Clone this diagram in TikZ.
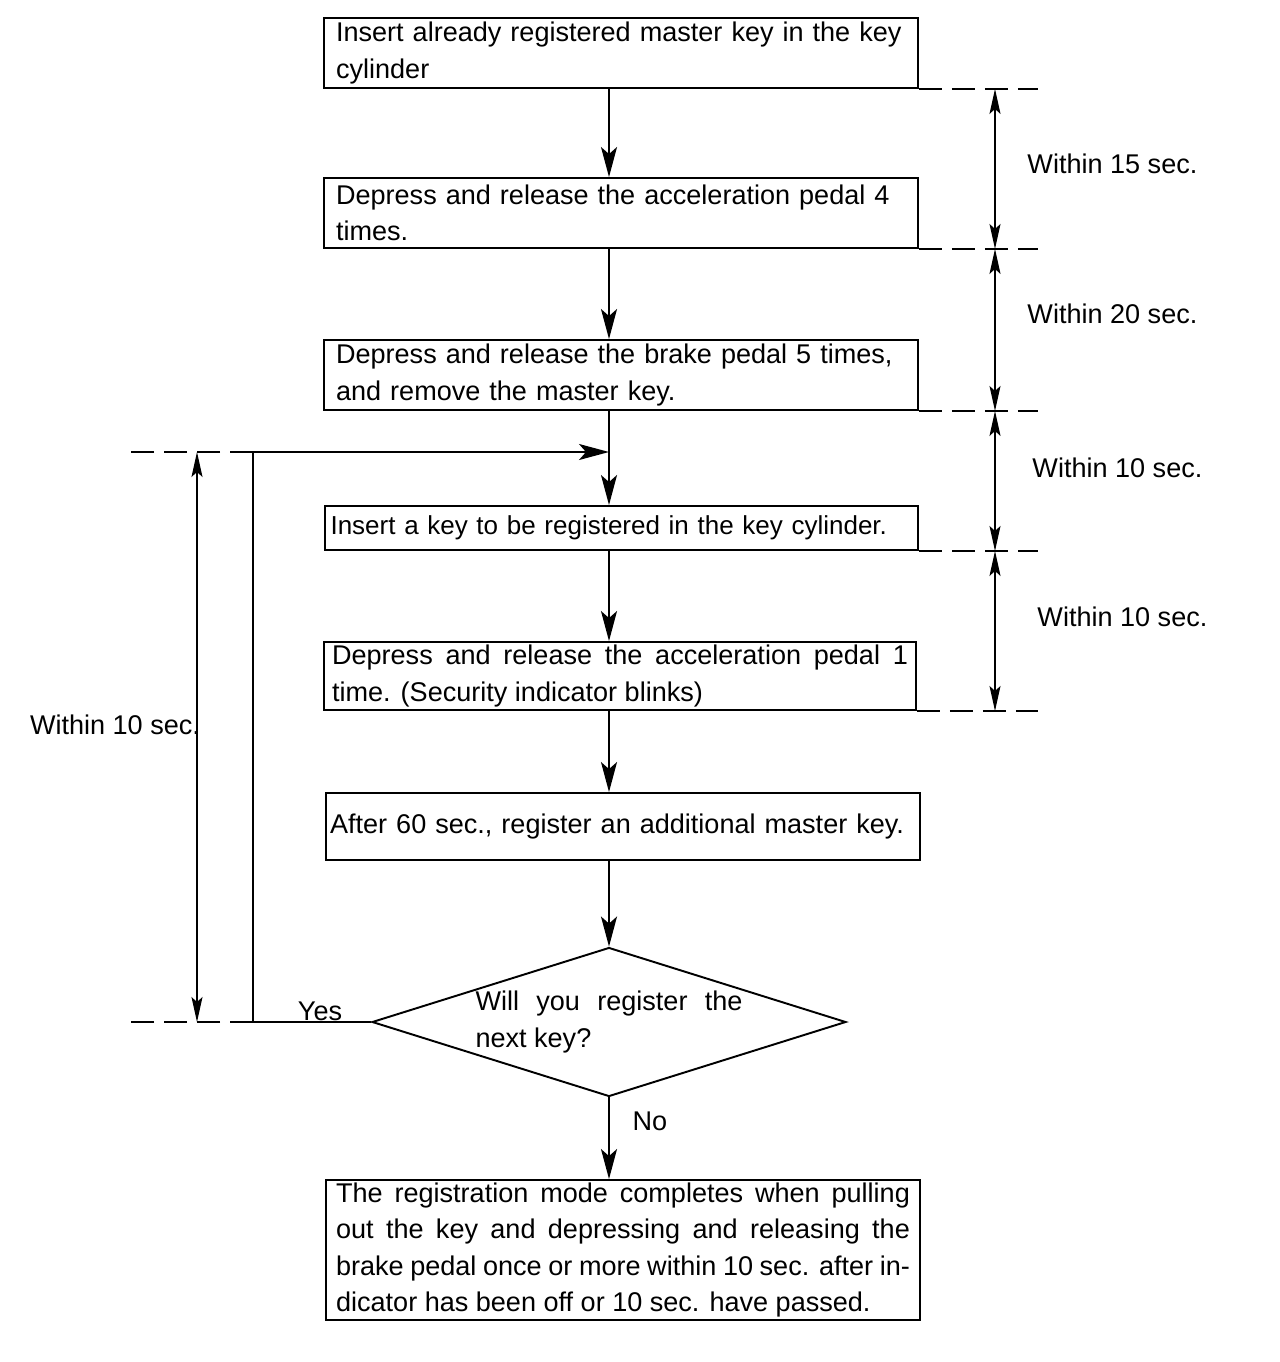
\documentclass[tikz,border=0pt]{standalone}
\usepackage{fontspec}
\setmainfont{Liberation Sans}
\usetikzlibrary{positioning,shapes.geometric,arrows.meta}

\begin{document}
\begin{tikzpicture}[x=0.02cm, y=-0.02cm,
        >={Stealth[length=0.6cm,width=0.32cm,inset=0.14cm]},
        every node/.style={font=\fontsize{15.4}{20.6}\selectfont},
        stepbox/.style={draw, line width=1.1pt, minimum width=11.88cm, inner sep=0pt, text width=11.4cm, align=left},
        flow/.style={->, line width=1.1pt},
        ext/.style={line width=0.8pt, dash pattern=on 0.46cm off 0.2cm},
        dim/.style={{Stealth[length=0.5cm,width=0.22cm,inset=0.1cm]}-{Stealth[length=0.5cm,width=0.22cm,inset=0.1cm]}, line width=0.7pt}]
    \useasboundingbox (0,0) rectangle (1280,1362);
    % Steps of the registration
    \node[stepbox, minimum height=1.4cm] (key1) at (621,53) {Insert already registered master key in the key\\cylinder};
    \node[stepbox, minimum height=1.4cm] (key2) at (621,213) {Depress and release the acceleration pedal 4\\times.};
    \node[stepbox, minimum height=1.4cm] (key3) at (621,375) {Depress and release the brake pedal 5 times,\\and remove the master key.};
    \node[stepbox, minimum height=0.88cm, text width=11.64cm, font=\fontsize{14.8}{20.6}\selectfont] (key4) at (621.5,528) {Insert a key to be registered in the key cylinder.};
    \node[stepbox, minimum height=1.36cm, minimum width=11.84cm, text width=11.52cm, align=justify] (key5) at (620,676) {Depress and release the acceleration pedal 1\linebreak time. (Security indicator blinks)};
    \node[stepbox, minimum height=1.34cm, text width=11.72cm] (key6) at (623,826.5) {After 60 sec., register an additional master key.};
    \node[draw, line width=1.1pt, shape=diamond, shape aspect=3.18, minimum width=9.48cm, minimum height=2.98cm, inner sep=0pt, text width=5.34cm, align=justify] (next) at (609,1022) {Will you register the\linebreak next key?};
    \node[stepbox, minimum height=2.8cm, text width=11.48cm, align=justify] (done) at (623,1250) {The registration mode completes when pulling\linebreak out the key and depressing and releasing the\linebreak brake pedal once or more within 10 sec. after in-\linebreak dicator has been off or 10 sec. have passed.};
    % Flow
    \coordinate (axis) at (609,0);
    \draw[flow] (key1.south -| axis) -- (key2.north -| axis);
    \draw[flow] (key2.south -| axis) -- (key3.north -| axis);
    \draw[flow] (key3.south -| axis) -- (key4.north -| axis);
    \draw[flow] (key4.south -| axis) -- (key5.north -| axis);
    \draw[flow] (key5.south -| axis) -- (key6.north -| axis);
    \draw[flow] (key6.south -| axis) -- (next.north);
    \draw[flow] (next.south) -- (done.north -| next.south);
    \node (no) at (650,1121) {No};
    % Loop back
    \coordinate (loop) at (253,452);
    \coordinate (join) at (609,452);
    \draw[flow] (next.west) -| (loop) -- (join);
    \node (yes) at (320,1011) {Yes};
    % Time limits, right
    \coordinate (dimx) at (995,0);
    \coordinate (extr) at (1038,0);
    \foreach \b in {key1,key2,key3,key4,key5}
        \draw[ext] (\b.south east) -- (\b.south east -| extr);
    \foreach \a/\b/\t/\s/\u in {key1/key2/15/0.52cm/0.1cm, key2/key3/20/0.52cm/0.32cm, key3/key4/10/0.62cm/0.26cm, key4/key5/10/0.72cm/0.28cm}
        \draw[dim] (\a.south east -| dimx) -- (\b.south east -| dimx)
            node[midway, anchor=west, xshift=\s, yshift=\u] {Within \t\ sec.};
    % Time limit, left
    \coordinate (diml) at (197,0);
    \coordinate (extl) at (123,0);
    \draw[ext] (loop) -- (loop -| extl);
    \draw[ext] (next.west -| loop) -- (next.west -| extl);
    \draw[dim] (loop -| diml) -- (next.west -| diml);
    \node (wait) at (115,725) {Within 10 sec.};
\end{tikzpicture}
\end{document}
